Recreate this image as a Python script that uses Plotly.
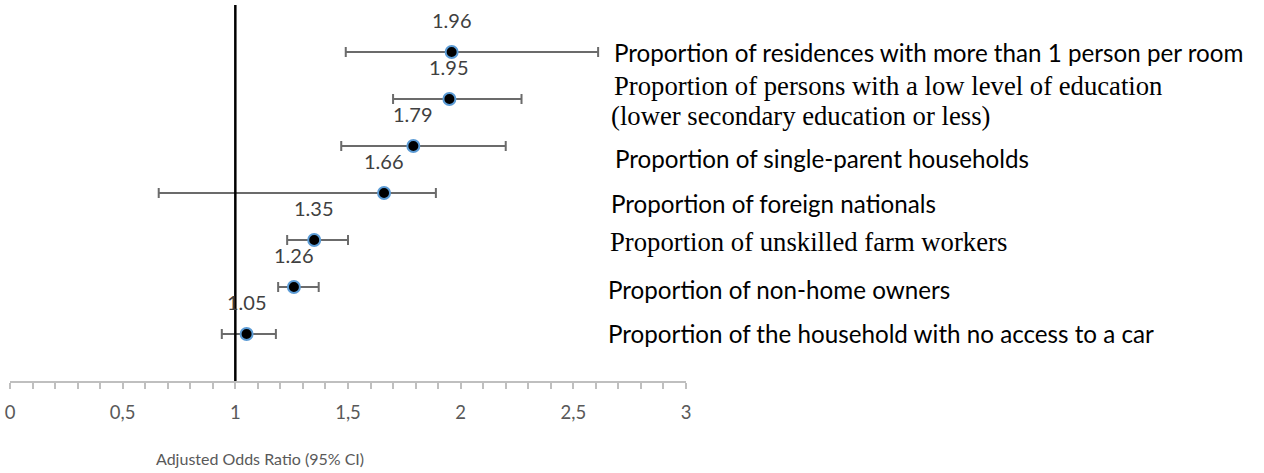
import plotly.graph_objects as go

labels = [
    "Proportion of residences with more than 1 person per room",
    "Proportion of persons with a low level of education",
    "Proportion of single-parent households",
    "Proportion of foreign nationals",
    "Proportion of unskilled farm workers",
    "Proportion of non-home owners",
    "Proportion of the household with no access to a car",
]
label_line2 = ["", "(lower secondary education or less)", "", "", "", "", ""]
serif_label = [False, True, False, False, True, False, False]
odds = [1.96, 1.95, 1.79, 1.66, 1.35, 1.26, 1.05]
ci_low = [1.49, 1.70, 1.47, 0.66, 1.23, 1.19, 0.94]
ci_high = [2.61, 2.27, 2.20, 1.89, 1.50, 1.37, 1.18]
rows = [7, 6, 5, 4, 3, 2, 1]
x_ticks = [0, 0.5, 1, 1.5, 2, 2.5, 3]

fig = go.Figure()
fig.add_trace(go.Scatter(
    x=odds, y=rows, mode="markers",
    marker=dict(size=12, color="black", line=dict(color="#5B9BD5", width=2)),
    error_x=dict(type="data", symmetric=False,
                 array=[h - o for h, o in zip(ci_high, odds)],
                 arrayminus=[o - l for o, l in zip(odds, ci_low)],
                 color="#6b6b6b", thickness=2, width=5),
    showlegend=False, cliponaxis=False,
))

annotations = []
for o, r in zip(odds, rows):
    annotations.append(dict(x=o, y=r, xref="x", yref="y", text=f"{o:.2f}",
                            showarrow=False, yshift=32,
                            font=dict(family="Lato", size=20, color="#404040")))

px_per_unit = 225.33
label_x = [612, 612, 613, 609, 608, 606, 606]
label_shift = [0, 13, -12, -10, -2, -2, 1]
for lab, lab2, r, lx, sh, serif in zip(labels, label_line2, rows, label_x,
                                      label_shift, serif_label):
    fnt = dict(family="Liberation Serif" if serif else "Lato",
               size=26.7 if serif else 24.2, color="black")
    annotations.append(dict(
        x=(lx - 10) / px_per_unit, y=r, xref="x", yref="y", text=lab,
        showarrow=False, xanchor="left", yanchor="middle", align="left",
        yshift=sh, font=fnt))
    if lab2:
        annotations.append(dict(
            x=(lx - 13) / px_per_unit, y=r, xref="x", yref="y", text=lab2,
            showarrow=False, xanchor="left", yanchor="middle", align="left",
            yshift=sh - 30, font=fnt))

annotations.append(dict(x=1.11, y=0, xref="x", yref="paper", yshift=-77,
                        yanchor="middle",
                        text="Adjusted Odds Ratio (95% CI)", showarrow=False,
                        font=dict(family="Lato", size=16, color="#595959")))

fig.add_shape(type="line", x0=1, x1=1, y0=0, y1=1, xref="x", yref="paper",
              line=dict(color="black", width=2.5))

fig.update_layout(
    width=1264, height=473,
    margin=dict(l=10, r=578, t=5, b=92),
    plot_bgcolor="white", paper_bgcolor="white",
    separators=",.",
    annotations=annotations,
    xaxis=dict(range=[0, 3], tickvals=x_ticks, showgrid=False, zeroline=False,
               showline=True, linecolor="#bfbfbf", linewidth=1.5,
               ticks="outside", ticklen=6, tickcolor="#bfbfbf", tickwidth=1.5,
               ticklabelstandoff=8,
               minor=dict(dtick=0.1, ticks="outside", ticklen=6,
                          tickcolor="#bfbfbf", tickwidth=1.5, showgrid=False),
               tickfont=dict(family="Lato", size=18.5, color="#595959")),
    yaxis=dict(range=[0, 8], visible=False, showgrid=False, zeroline=False),
)

fig.write_html("out.html",
               config={"displayModeBar": False},
               post_script="document.body.style.margin='0';")
